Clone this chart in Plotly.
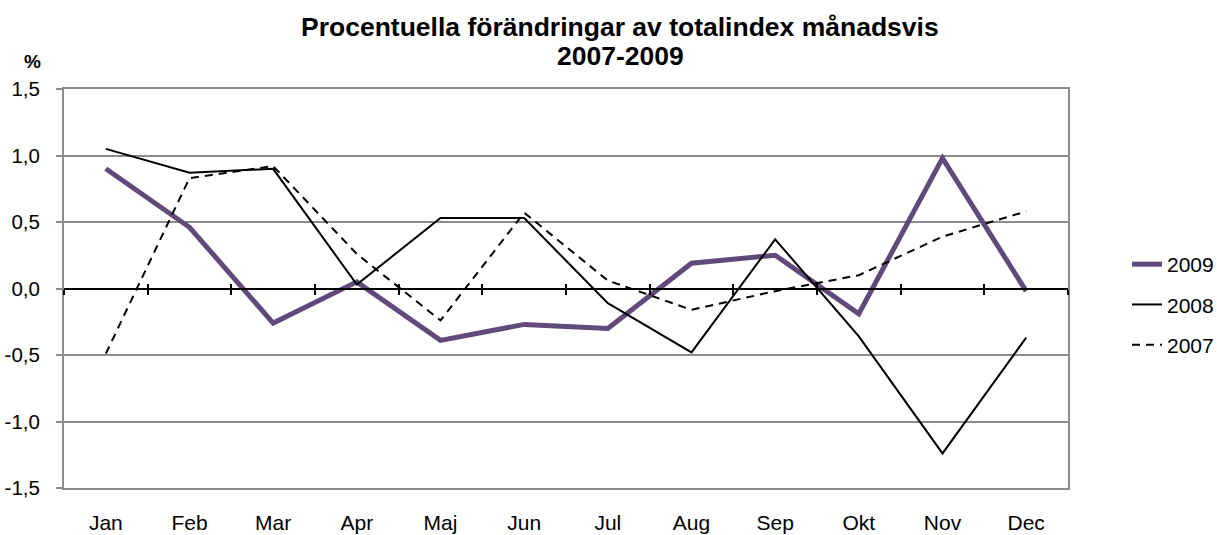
import plotly.graph_objects as go

months = ["Jan", "Feb", "Mar", "Apr", "Maj", "Jun", "Jul", "Aug", "Sep", "Okt", "Nov", "Dec"]
y2009 = [0.90, 0.46, -0.26, 0.05, -0.39, -0.27, -0.30, 0.19, 0.25, -0.19, 0.98, -0.02]
y2008 = [1.05, 0.87, 0.90, 0.03, 0.53, 0.53, -0.11, -0.48, 0.37, -0.36, -1.24, -0.37]
y2007 = [-0.49, 0.83, 0.92, 0.26, -0.24, 0.57, 0.06, -0.16, -0.02, 0.10, 0.39, 0.58]
y_ticks = [-1.5, -1.0, -0.5, 0.0, 0.5, 1.0, 1.5]
y_ticktext = [f"{v:.1f}".replace(".", ",") for v in y_ticks]
title_lines = ["Procentuella förändringar av totalindex månadsvis", "2007-2009"]

FONT = "Liberation Sans, Arial, sans-serif"
GRID = "#8c8c8c"
W, H = 1217, 535
ML, MT = 64, 89
MR = W - 1068
MB = H - 488
PW, PH = W - ML - MR, H - MT - MB


def px_x(px):
    return (px - ML) / PW


def px_y(py):
    return 1 - (py - MT) / PH


fig = go.Figure()
fig.add_trace(go.Scatter(x=months, y=y2009, mode="lines", name="2009",
                         line=dict(color="#604a7b", width=5), legendgroup="a"))
fig.add_trace(go.Scatter(x=months, y=y2008, mode="lines", name="2008",
                         line=dict(color="black", width=2), legendgroup="b"))
fig.add_trace(go.Scatter(x=months, y=y2007, mode="lines", name="2007",
                         line=dict(color="black", width=2, dash="8px,6px"), legendgroup="c"))
# invisible helpers so the tick-only overlay axes get drawn
idx = list(range(len(months)))
for ax in ("x2", "x3"):
    fig.add_trace(go.Scatter(x=idx, y=y2009, xaxis=ax, mode="lines", opacity=0,
                             showlegend=False, hoverinfo="skip"))

boundaries = [i - 0.5 for i in range(len(months) + 1)]
xr = [-0.5, len(months) - 0.5]

fig.update_layout(
    width=W, height=H,
    margin=dict(l=ML, r=MR, t=MT, b=MB, autoexpand=False),
    paper_bgcolor="white", plot_bgcolor="white",
    font=dict(family=FONT, size=21, color="black"),
    xaxis=dict(type="category", range=xr, showgrid=False, ticks="", ticklen=0,
               showline=True, linecolor=GRID, linewidth=2, mirror=True, automargin=False,
               ticklabelstandoff=15, tickfont=dict(size=21)),
    xaxis2=dict(overlaying="x", anchor="free", position=0.5, range=xr, automargin=False,
                tickmode="array", tickvals=boundaries, showticklabels=False,
                ticks="outside", ticklen=5, tickwidth=2, tickcolor="black",
                showline=True, linecolor="black", linewidth=2, showgrid=False, zeroline=False),
    xaxis3=dict(overlaying="x", anchor="free", position=0.5, range=xr, automargin=False,
                tickmode="array", tickvals=boundaries, showticklabels=False,
                ticks="inside", ticklen=5, tickwidth=2, tickcolor="black",
                showline=False, showgrid=False, zeroline=False),
    yaxis=dict(range=[-1.5, 1.5], tickmode="array", tickvals=y_ticks, ticktext=y_ticktext,
               showgrid=True, gridcolor=GRID, gridwidth=1.5, automargin=False,
               zeroline=True, zerolinecolor="black", zerolinewidth=2,
               showline=True, linecolor=GRID, linewidth=2, mirror=True,
               ticks="outside", ticklen=6, tickcolor=GRID, tickwidth=1.5,
               ticklabelstandoff=12, tickfont=dict(size=20.5)),
    legend=dict(x=px_x(1127), xanchor="left", y=px_y(244), yanchor="top",
                font=dict(size=21), tracegroupgap=10, bgcolor="rgba(0,0,0,0)"),
    showlegend=True,
)

for line, cy in zip(title_lines, (27, 56)):
    fig.add_annotation(text=f"<b>{line}</b>", x=px_x(620), y=px_y(cy), xref="paper", yref="paper",
                       xanchor="center", yanchor="middle", showarrow=False,
                       font=dict(size=26.5, family=FONT, color="black"))

fig.add_annotation(text="<b>%</b>", x=px_x(32), y=px_y(62), xref="paper", yref="paper",
                   xanchor="center", yanchor="middle", showarrow=False,
                   font=dict(size=19, family=FONT, color="black"))

fig.write_html("out.html", config={"displayModeBar": False},
               post_script="document.body.style.margin='0';document.body.style.overflow='hidden';")
